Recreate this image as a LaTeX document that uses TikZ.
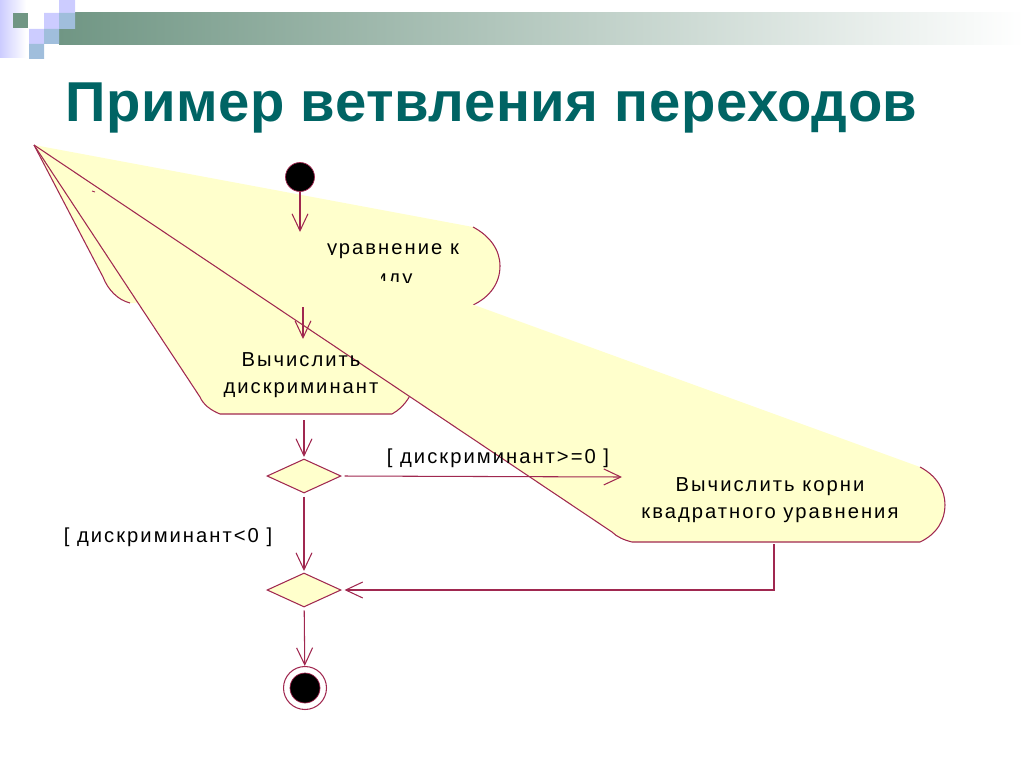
\documentclass[tikz,border=0pt]{standalone}
\usepackage{fontspec}
\setmainfont{Liberation Sans}
\newfontfamily\rosefont[LetterSpace=10]{Liberation Sans}
\newfontfamily\ttlfont[LetterSpace=1]{Liberation Sans}
\usetikzlibrary{arrows.meta,shapes.geometric}
\definecolor{rosered}{RGB}{160,40,80}
\definecolor{roseyel}{RGB}{255,255,204}
\definecolor{ttl}{RGB}{0,100,100}
\definecolor{barg}{RGB}{112,150,132}
\definecolor{lav}{RGB}{204,204,255}
\definecolor{lblu}{RGB}{160,190,220}
\tikzset{
    edge/.style={rosered,line width=0.6pt},
    flow/.style={edge,-{Straight Barb[length=3.4mm,width=3.2mm,line width=0.6pt]}},
    actxt/.style={font=\rosefont\fontsize{11.5}{15.5}\selectfont,align=center,inner sep=0pt},
    guard/.style={font=\rosefont\fontsize{11.5}{12}\selectfont,inner sep=0pt},
    decision/.style={diamond,draw=rosered,fill=roseyel,line width=0.6pt,
        minimum width=14.8mm,minimum height=6.8mm,inner sep=0pt},
    startst/.style={circle,fill=black,draw=rosered,line width=0.4pt,minimum size=5.8mm,inner sep=0pt},
    endst/.style={circle,draw=rosered,fill=white,line width=0.6pt,minimum size=8.6mm,inner sep=0pt}
}

\begin{document}
\begin{tikzpicture}[x=0.02cm,y=-0.02cm]
    \useasboundingbox (0,0) rectangle (1024,767);
    % slide header
    \shade[left color=lav,right color=white] (0,0) rectangle (26,58);
    \shade[left color=barg,right color=white] (59,13) rectangle (1024,45);
    \fill[barg] (13,13) rectangle (28,28);
    \fill[lav] (29,29) rectangle (44,44) (44,13) rectangle (59,29) (59,0) rectangle (75,13);
    \fill[lblu] (29,44) rectangle (44,59) (44,29) rectangle (59,44) (59,13) rectangle (75,29);
    \node[font=\ttlfont\bfseries\fontsize{32}{34}\selectfont,text=ttl,anchor=base west,inner sep=0pt]
        (title) at (65,121) {Пример ветвления переходов};

    \coordinate (apex) at (34,145);
    % first action
    \fill[roseyel] (apex) -- (473,227) .. controls (490,236) and (500,250) .. (500,266)
        .. controls (500,283) and (490,297) .. (473,305) -- (130,303)
        .. controls (118,300) and (108,290) .. (103,277) -- cycle;
    \draw[edge] (473,227) .. controls (490,236) and (500,250) .. (500,266)
        .. controls (500,283) and (490,297) .. (473,305);
    \draw[edge] (apex) -- (103,277) .. controls (108,290) and (118,300) .. (130,303);
    % second action
    \fill[roseyel] (apex) -- (392,338) .. controls (405,345) and (415,360) .. (415,376)
        .. controls (415,392) and (405,407) .. (392,414) -- (220,414)
        .. controls (210,410) and (203,404) .. (200,397) -- cycle;
    \draw[edge] (apex) -- (200,397) .. controls (203,404) and (210,410) .. (220,414) -- (392,414)
        .. controls (405,407) and (415,392) .. (415,376) .. controls (415,360) and (405,345) .. (392,338);
    % third action
    \fill[roseyel] (apex) -- (920,467) .. controls (937,476) and (945,490) .. (945,505)
        .. controls (945,520) and (937,534) .. (920,542) -- (632,542)
        .. controls (624,540) and (617,537) .. (612,532) -- cycle;
    \draw[edge] (apex) -- (612,532) .. controls (617,537) and (624,540) .. (632,542) -- (920,542)
        .. controls (937,534) and (945,520) .. (945,505) .. controls (945,490) and (937,476) .. (920,467);
    \draw[rosered,line width=0.5pt] (92,191) -- (95,192);

    \begin{scope}
        \clip (322,234) -- (470,234) -- (470,259) -- (337,259) -- (337,254) -- (322,254) -- cycle;
        \node[actxt,anchor=base] (actA) at (393,254) {уравнение к};
    \end{scope}
    \begin{scope}
        \clip (381,265) -- (425,265) -- (425,284) -- (381,280) -- cycle;
        \node[actxt,anchor=base] (actAtail) at (394,284) {иду};
    \end{scope}
    \node[actxt] (actB) at (301,375) {Вычислить\\дискриминант};
    \node[actxt] (actC) at (770,500) {Вычислить корни\\квадратного уравнения};

    \node[startst] (start) at (300,177) {};
    \node[decision] (dec1) at (304,476) {};
    \node[decision] (dec2) at (304,590) {};
    \node[endst] (final) at (305,688) {};
    \node[startst,minimum size=6mm] (finaldot) at (final) {};

    \coordinate (aIn) at (300,232);
    \coordinate (aOut) at (303,307);
    \coordinate (bIn) at (303,339);
    \coordinate (bOut) at (304,420);
    \coordinate (cIn) at (622,477);
    \coordinate (cOut) at (774,544);
    \draw[flow] (start) -- (aIn);
    \draw[flow] (aOut) -- (bIn);
    \draw[flow,shorten >=0.3mm] (bOut) -- (dec1.north);
    \draw[flow,shorten <=0.6mm] (dec1.east) -- (cIn);
    \draw[flow,shorten <=0.6mm,shorten >=0.3mm] (dec1) -- (dec2);
    \draw[flow,shorten >=0.6mm] (cOut) |- (dec2);
    \draw[flow,shorten <=0.6mm] (dec2) -- (final);

    \node[guard] (geq) at (498,458) {[ дискриминант>=0 ]};
    \node[guard] (glt) at (168,537) {[ дискриминант<0 ]};
\end{tikzpicture}
\end{document}
